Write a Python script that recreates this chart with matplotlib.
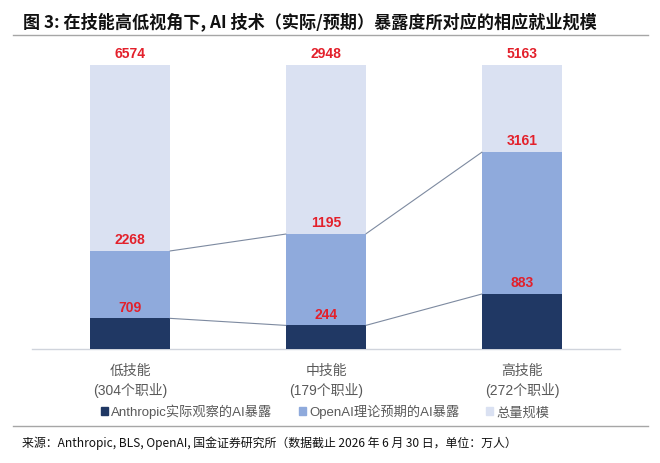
import matplotlib
matplotlib.use("Agg")
import matplotlib.pyplot as plt
from matplotlib.lines import Line2D
from matplotlib.patches import Patch

plt.rcParams['font.family'] = ['Liberation Sans', 'Noto Sans CJK SC', 'DejaVu Sans']

# ---- data ----
categories = ['低技能\n(304个职业)', '中技能\n(179个职业)', '高技能\n(272个职业)']
anthropic_vals = [709, 244, 883]      # Anthropic 实际观察的AI暴露（万人）
openai_vals = [2268, 1195, 3161]      # OpenAI 理论预期的AI暴露（万人）
total_vals = [6574, 2948, 5163]       # 总量规模（万人）
# bar heights as share of total (%)
anthropic_share = [10.8, 8.3, 19.4]
openai_share = [34.5, 40.5, 69.4]
total_share = [100, 100, 100]
series_names = ['Anthropic实际观察的AI暴露', 'OpenAI理论预期的AI暴露', '总量规模']

title = '图 3: 在技能高低视角下, AI 技术（实际/预期）暴露度所对应的相应就业规模'
source = '来源：Anthropic, BLS, OpenAI, 国金证券研究所（数据截止 2026 年 6 月 30 日，单位：万人）'

c_dark = '#203864'
c_mid = '#8faadc'
c_light = '#dae1f2'
c_red = '#e3202b'
c_grey = '#595959'

W, H = 660, 464
fig = plt.figure(figsize=(W / 100, H / 100), dpi=100)
ax = fig.add_axes([32 / W, 1 - 350 / H, 588 / W, 284 / H])

x = list(range(len(categories)))
bw = 0.405
ax.bar(x, total_share, width=bw, color=c_light, zorder=1)
ax.bar(x, openai_share, width=bw, color=c_mid, zorder=2)
ax.bar(x, anthropic_share, width=bw, color=c_dark, zorder=3)

# connector lines
for series in (anthropic_share, openai_share):
    for i in range(len(x) - 1):
        ax.plot([x[i] + bw / 2, x[i + 1] - bw / 2], [series[i], series[i + 1]],
                color='#7d8aa0', lw=0.8, zorder=4, solid_capstyle='butt')

# value labels
for share, vals in ((anthropic_share, anthropic_vals), (openai_share, openai_vals),
                    (total_share, total_vals)):
    for xi, s, v in zip(x, share, vals):
        ax.annotate(f'{v}', (xi, s), xytext=(0, 8.5), textcoords='offset points',
                    ha='center', va='center', color=c_red, fontsize=10,
                    fontweight='bold', family=['Liberation Sans', 'DejaVu Sans'],
                    annotation_clip=False, zorder=5)

ax.set_xlim(-0.5, 2.5)
ax.set_ylim(0, 100)
for sp in ('left', 'right', 'top'):
    ax.spines[sp].set_visible(False)
ax.spines['bottom'].set_color('#d0d4dc')
ax.spines['bottom'].set_linewidth(1.0)
ax.set_yticks([])
ax.set_xticks(x)
ax.set_xticklabels(categories, fontsize=10, color=c_grey, linespacing=1.4)
ax.tick_params(axis='x', length=0, pad=10)

# legend
handles = [Patch(color=c_dark), Patch(color=c_mid), Patch(color=c_light)]
leg = fig.legend(handles, series_names, loc='center', ncol=3,
                 bbox_to_anchor=(325 / W, 1 - 412 / H), frameon=False,
                 fontsize=9.5, handlelength=0.55, handleheight=0.55,
                 handletextpad=0.25, columnspacing=2.0)
for t in leg.get_texts():
    t.set_color(c_grey)

# title and separators
fig.text(23 / W, 1 - 22 / H, title, fontsize=12.3, fontweight='bold',
         family=['Noto Sans CJK SC', 'DejaVu Sans'], ha='left', va='center', color='#111111')
fig.add_artist(Line2D([13 / W, 648 / W], [1 - 36 / H, 1 - 36 / H], color='#a6a6a6', lw=1.0))
fig.add_artist(Line2D([13 / W, 648 / W], [1 - 427 / H, 1 - 427 / H], color='#a6a6a6', lw=1.0))
fig.text(22 / W, 1 - 443 / H, source, fontsize=8.6,
         family=['Noto Sans CJK SC', 'DejaVu Sans'], ha='left', va='center', color='#111111')

fig.savefig('out.png', dpi=100)
